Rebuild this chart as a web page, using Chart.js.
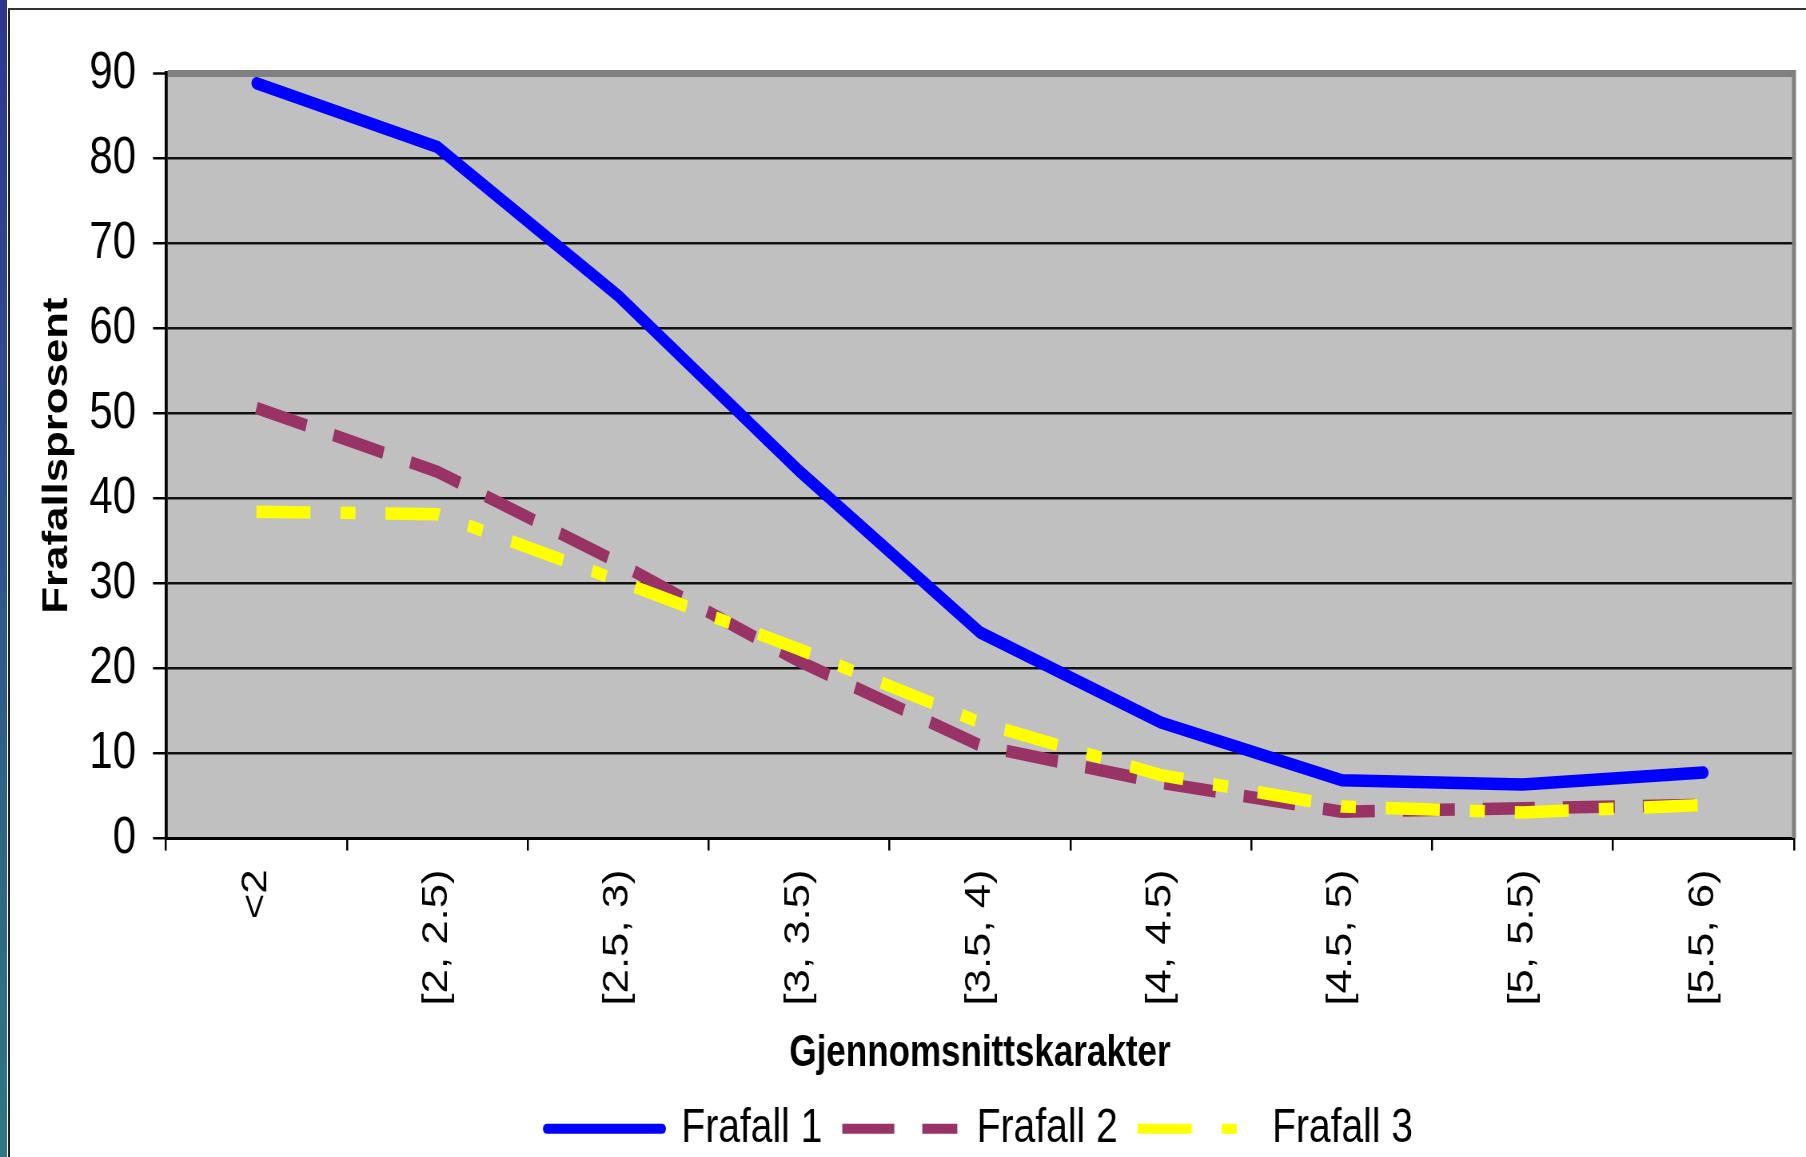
<!DOCTYPE html>
<html>
<head>
<meta charset="utf-8">
<script src="https://cdn.jsdelivr.net/npm/chart.js@4.4.1/dist/chart.umd.min.js"></script>
<style>
  html, body { margin: 0; padding: 0; background: #fff; width: 1806px; height: 1157px; overflow: hidden; }
  #strip { position: absolute; left: 0; top: 0; width: 7px; height: 1157px; background: linear-gradient(#2e3592, #2f7782); }
  #frameL { position: absolute; left: 8px; top: 8px; width: 2px; height: 1149px; background: #222; }
  #frameT { position: absolute; left: 8px; top: 8px; width: 1798px; height: 2px; background: #333; }
  #wrap { position: absolute; left: 0; top: 0; width: 1806px; height: 925px; transform: scaleY(1.25081); transform-origin: 0 0; }
</style>
</head>
<body>
<div id="strip"></div>
<div id="wrap"><canvas id="c"></canvas></div>
<div id="frameL"></div>
<div id="frameT"></div>
<script>
// ---- data ----
const categories = ['<2', '[2, 2.5)', '[2.5, 3)', '[3, 3.5)', '[3.5, 4)', '[4, 4.5)', '[4.5, 5)', '[5, 5.5)', '[5.5, 6)'];
const frafall1 = [88.8, 81.3, 63.8, 43.2, 24.2, 13.6, 6.8, 6.3, 7.7];
const frafall2 = [50.6, 43.1, 32.4, 20.8, 10.9, 6.5, 3.1, 3.5, 3.9];
const frafall3 = [38.4, 38.1, 30.3, 22.2, 13.6, 7.4, 3.7, 3.0, 3.9];
const seriesNames = ['Frafall 1', 'Frafall 2', 'Frafall 3'];
const yTickValues = [0, 10, 20, 30, 40, 50, 60, 70, 80, 90];
const xTitle = 'Gjennomsnittskarakter';
const yTitle = 'Frafallsprosent';

Chart.defaults.font.family = "'Liberation Sans', Arial, Helvetica, sans-serif";
Chart.defaults.color = '#000';

const plotFrame = {
  id: 'plotFrame',
  beforeDraw(chart) {
    const { ctx, chartArea: a } = chart;
    ctx.save();
    ctx.fillStyle = '#C0C0C0';
    ctx.fillRect(a.left, a.top, a.right - a.left, a.bottom - a.top);
    ctx.restore();
  },
  beforeDatasetsDraw(chart) {
    const { ctx, chartArea: a } = chart;
    ctx.save();
    ctx.strokeStyle = '#808080';
    ctx.lineWidth = 4;
    ctx.beginPath();
    ctx.moveTo(a.right, a.top - 2.5);
    ctx.lineTo(a.right, a.bottom);
    ctx.stroke();
    ctx.restore();
  }
};

const legendStyle = [
  { lineWidth: 8, lineCap: 'round', lineDash: [], offset: 0 },
  { lineWidth: 8, lineCap: 'butt', lineDash: [52, 28], offset: 0 },
  { lineWidth: 8, lineCap: 'butt', lineDash: [54, 30, 15, 30], offset: 0 }
];

new Chart(document.getElementById('c'), {
  type: 'line',
  data: {
    labels: categories,
    datasets: [
      { label: seriesNames[0], data: frafall1, borderColor: '#0000FF', backgroundColor: '#0000FF',
        borderWidth: 10, borderCapStyle: 'round', borderJoinStyle: 'round', pointRadius: 0, tension: 0, fill: false, order: 0 },
      { label: seriesNames[1], data: frafall2, borderColor: '#993366', backgroundColor: '#993366',
        borderWidth: 10, borderDash: [52, 28], borderCapStyle: 'butt', borderJoinStyle: 'round', pointRadius: 0, tension: 0, fill: false, order: 2 },
      { label: seriesNames[2], data: frafall3, borderColor: '#FFFF00', backgroundColor: '#FFFF00',
        borderWidth: 10, borderDash: [54, 30, 15, 30], borderCapStyle: 'butt', borderJoinStyle: 'round', pointRadius: 0, tension: 0, fill: false, order: 1 }
    ]
  },
  options: {
    responsive: true,
    maintainAspectRatio: false,
    devicePixelRatio: 1157 / 925,
    animation: false,
    events: [],
    layout: { padding: { left: 0, right: 12, top: 58.4, bottom: -7 } },
    scales: {
      x: {
        type: 'category',
        offset: true,
        afterFit(s) { s.height = 193; },
        grid: { offset: true, drawOnChartArea: false, drawTicks: true, tickLength: 10, color: '#000', lineWidth: 2 },
        border: { display: true, color: '#000', width: 2.4 },
        ticks: { autoSkip: false, minRotation: 90, maxRotation: 90, padding: 15, color: '#000', font: { size: 35 } },
        title: { display: true, text: xTitle, color: '#000', font: { size: 35, weight: 'bold', lineHeight: 1 }, padding: { top: 0, bottom: 3 } }
      },
      y: {
        min: 0,
        max: 90,
        afterFit(s) { s.width = 166; },
        afterBuildTicks(s) { s.ticks = yTickValues.map(v => ({ value: v })); },
        grid: {
          drawTicks: true,
          tickLength: 13,
          color: c => (c.tick && c.tick.value === 90 ? '#808080' : '#111'),
          lineWidth: c => (c.tick && c.tick.value === 90 ? 5.6 : 2),
          tickColor: '#000',
          tickWidth: 2
        },
        border: { display: true, color: '#000', width: 3 },
        ticks: { padding: 17, color: '#000', font: { size: 42 } },
        title: { display: true, text: yTitle, color: '#000', font: { size: 35, weight: 'bold', lineHeight: 1 }, padding: { top: 40, bottom: 0 } }
      }
    },
    plugins: {
      tooltip: { enabled: false },
      legend: {
        display: true,
        position: 'bottom',
        align: 'center',
        fullSize: false,
        labels: {
          usePointStyle: true,
          pointStyle: 'line',
          pointStyleWidth: 115,
          padding: 20,
          color: '#000',
          font: { size: 39 },
          sort: (a, b) => a.datasetIndex - b.datasetIndex,
          generateLabels(chart) {
            const items = Chart.defaults.plugins.legend.labels.generateLabels(chart);
            items.forEach(it => {
              const st = legendStyle[it.datasetIndex];
              it.pointStyle = 'line';
              it.lineWidth = st.lineWidth;
              it.lineCap = st.lineCap;
              it.lineDash = st.lineDash;
              it.lineDashOffset = st.offset;
            });
            return items;
          }
        }
      }
    }
  },
  plugins: [plotFrame]
});
</script>
</body>
</html>
